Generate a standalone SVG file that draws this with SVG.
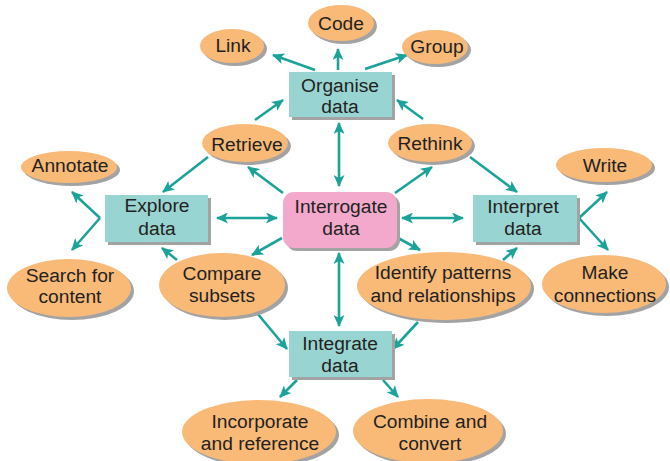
<svg xmlns="http://www.w3.org/2000/svg" width="670" height="461" viewBox="0 0 670 461">
<defs>
<marker id="ah" markerUnits="userSpaceOnUse" viewBox="0 0 12 11" markerWidth="12" markerHeight="11" refX="11" refY="5.5" orient="auto-start-reverse">
<path d="M0,0 L12,5.5 L0,11 L3,5.5 z" fill="#1BA39A"/>
</marker>
<style>
.c{stroke:#1BA39A;stroke-width:2.6;fill:none;marker-end:url(#ah)}
.d{marker-start:url(#ah)}
.e{fill:#F9BA78}
.b{fill:#98D5D2}
.s{fill:#A3A3A3}
.t{font-family:"Liberation Sans",Arial,sans-serif;font-size:19.2px;fill:#231F20;text-anchor:middle}
</style>
</defs>
<rect width="670" height="461" fill="#fff"/>
<g id="connectors">
<line class="c" x1="315" y1="70" x2="273" y2="55"/>
<line class="c" x1="338" y1="70" x2="338" y2="49"/>
<line class="c" x1="365" y1="69" x2="407" y2="55"/>
<line class="c" x1="255" y1="120" x2="283" y2="100"/>
<line class="c" x1="423" y1="119" x2="397" y2="100"/>
<line class="c d" x1="339" y1="123" x2="339" y2="186"/>
<line class="c d" x1="339" y1="253" x2="339" y2="326"/>
<line class="c" x1="208" y1="157" x2="163" y2="192"/>
<line class="c" x1="283" y1="193" x2="248" y2="167"/>
<line class="c" x1="282" y1="238" x2="252" y2="255"/>
<line class="c" x1="177" y1="260" x2="162" y2="248"/>
<line class="c d" x1="217" y1="218" x2="277" y2="218"/>
<line class="c" x1="100" y1="218" x2="72" y2="192"/>
<line class="c" x1="100" y1="218" x2="72" y2="250"/>
<line class="c" x1="395" y1="193" x2="432" y2="167"/>
<line class="c" x1="470" y1="157" x2="517" y2="192"/>
<line class="c d" x1="402" y1="218" x2="463" y2="218"/>
<line class="c" x1="398" y1="238" x2="420" y2="250"/>
<line class="c" x1="503" y1="260" x2="517" y2="248"/>
<line class="c" x1="579" y1="218" x2="607" y2="192"/>
<line class="c" x1="579" y1="218" x2="608" y2="250"/>
<line class="c" x1="257" y1="313" x2="287" y2="349"/>
<line class="c" x1="418" y1="322" x2="393" y2="349"/>
<line class="c" x1="297" y1="380" x2="280" y2="397"/>
<line class="c" x1="383" y1="380" x2="398" y2="397"/>
</g>
<g id="code"><ellipse class="s" cx="344" cy="26" rx="33" ry="18"/><ellipse class="e" cx="341" cy="23" rx="33" ry="18"/><text class="t" x="341" y="30">Code</text></g>
<g id="link"><ellipse class="s" cx="235" cy="49" rx="32" ry="17"/><ellipse class="e" cx="232" cy="46" rx="32" ry="17"/><text class="t" x="233" y="52">Link</text></g>
<g id="group"><ellipse class="s" cx="438" cy="50" rx="33" ry="17"/><ellipse class="e" cx="435" cy="47" rx="33" ry="17"/><text class="t" x="437" y="53">Group</text></g>
<g id="organise"><rect class="s" x="292" y="75" width="103" height="45"/><rect class="b" x="289" y="72" width="103" height="45"/><text class="t" x="340" y="92">Organise</text><text class="t" x="340" y="113">data</text></g>
<g id="retrieve"><ellipse class="s" cx="248" cy="146" rx="43" ry="19"/><ellipse class="e" cx="245" cy="143" rx="43" ry="19"/><text class="t" x="247" y="151">Retrieve</text></g>
<g id="rethink"><ellipse class="s" cx="433" cy="146" rx="42" ry="19"/><ellipse class="e" cx="430" cy="143" rx="42" ry="19"/><text class="t" x="430" y="150">Rethink</text></g>
<g id="annotate"><ellipse class="s" cx="72" cy="170" rx="48" ry="16"/><ellipse class="e" cx="69" cy="167" rx="48" ry="16"/><text class="t" x="70" y="172">Annotate</text></g>
<g id="write"><ellipse class="s" cx="607" cy="168" rx="48" ry="17"/><ellipse class="e" cx="604" cy="165" rx="48" ry="17"/><text class="t" x="605" y="172">Write</text></g>
<g id="explore"><rect class="s" x="108" y="198" width="103" height="47"/><rect class="b" x="105" y="195" width="103" height="47"/><text class="t" x="157" y="212">Explore</text><text class="t" x="157" y="235">data</text></g>
<g id="interrogate"><rect class="s" x="286" y="195" width="114" height="56" rx="11"/><rect x="283" y="192" width="114" height="56" rx="11" fill="#F2A9CB"/><text class="t" x="341" y="213">Interrogate</text><text class="t" x="341" y="235">data</text></g>
<g id="interpret"><rect class="s" x="476" y="198" width="104" height="47"/><rect class="b" x="473" y="195" width="104" height="47"/><text class="t" x="523" y="213">Interpret</text><text class="t" x="523" y="235">data</text></g>
<g id="search"><ellipse class="s" cx="72" cy="291" rx="62" ry="29"/><ellipse class="e" cx="69" cy="288" rx="62" ry="29"/><text class="t" x="70" y="282">Search for</text><text class="t" x="70" y="303">content</text></g>
<g id="compare"><ellipse class="s" cx="225" cy="288" rx="63" ry="32"/><ellipse class="e" cx="222" cy="285" rx="63" ry="32"/><text class="t" x="222" y="280">Compare</text><text class="t" x="222" y="302">subsets</text></g>
<g id="identify"><ellipse class="s" cx="447" cy="289" rx="87" ry="34"/><ellipse class="e" cx="444" cy="286" rx="87" ry="34"/><text class="t" x="443" y="279">Identify patterns</text><text class="t" x="443" y="302">and relationships</text></g>
<g id="make"><ellipse class="s" cx="607" cy="287" rx="62" ry="29"/><ellipse class="e" cx="604" cy="284" rx="62" ry="29"/><text class="t" x="605" y="279">Make</text><text class="t" x="605" y="302">connections</text></g>
<g id="integrate"><rect class="s" x="292" y="334" width="103" height="46"/><rect class="b" x="289" y="331" width="103" height="46"/><text class="t" x="340" y="350">Integrate</text><text class="t" x="340" y="372">data</text></g>
<g id="incorporate"><ellipse class="s" cx="262" cy="435" rx="77" ry="32"/><ellipse class="e" cx="259" cy="432" rx="77" ry="32"/><text class="t" x="260" y="428">Incorporate</text><text class="t" x="260" y="450">and reference</text></g>
<g id="combine"><ellipse class="s" cx="431" cy="434" rx="75" ry="32"/><ellipse class="e" cx="428" cy="431" rx="75" ry="32"/><text class="t" x="430" y="428">Combine and</text><text class="t" x="430" y="450">convert</text></g>
</svg>
